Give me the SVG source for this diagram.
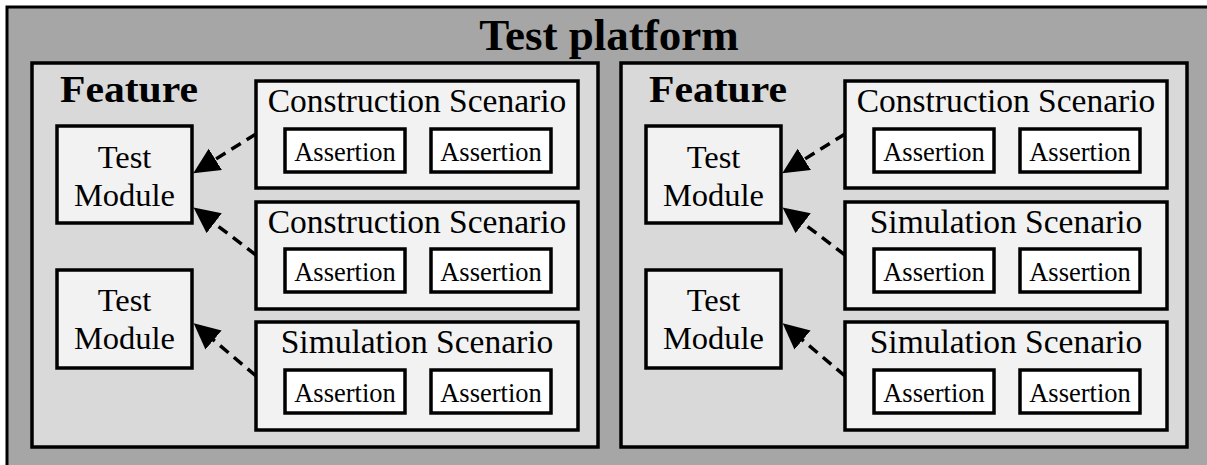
<svg xmlns="http://www.w3.org/2000/svg" width="1207" height="465" viewBox="0 0 1207 465">
<style>
.platform{fill:#a6a6a6;stroke:#000;stroke-width:3}
.feature{fill:#d9d9d9;stroke:#000;stroke-width:3.5}
.box{fill:#f2f2f2;stroke:#000;stroke-width:3.5}
.assert{fill:#ffffff;stroke:#000;stroke-width:3.5}
text{font-family:"Liberation Serif","Times New Roman",serif;fill:#000}
.title{font-size:45px;font-weight:bold;text-anchor:middle}
.ftitle{font-size:37px;font-weight:bold}
.stitle{font-size:33.5px;text-anchor:middle}
.tm{font-size:32.5px;text-anchor:middle}
.at{font-size:26.5px;text-anchor:middle}
.conn{fill:none;stroke:#000;stroke-width:3.5;stroke-dasharray:11 7}
</style>
<defs>
<marker id="arr" markerUnits="userSpaceOnUse" markerWidth="28" markerHeight="28" refX="21" refY="12.5" orient="auto">
<path d="M0,0 L26,12.5 L0,25 z" fill="#000"/>
</marker>
</defs>
<g id="platform">
<rect class="platform" x="7" y="7" width="1210" height="470"/>
<text class="title" x="609" y="50">Test platform</text>
</g>
<g id="feature1">
<rect class="feature" x="32" y="63" width="566" height="384"/>
<text class="ftitle" x="60" y="102" textLength="138" lengthAdjust="spacingAndGlyphs">Feature</text>
</g>
<g id="feature2">
<rect class="feature" x="621" y="63" width="566" height="384"/>
<text class="ftitle" x="649" y="102" textLength="138" lengthAdjust="spacingAndGlyphs">Feature</text>
</g>
<g id="tm1">
<rect class="box" x="57" y="126" width="135" height="97"/>
<text class="tm" x="124.5" y="168">Test</text>
<text class="tm" x="124.5" y="206">Module</text>
</g>
<g id="tm2">
<rect class="box" x="57" y="270" width="135" height="98"/>
<text class="tm" x="124.5" y="311">Test</text>
<text class="tm" x="124.5" y="349">Module</text>
</g>
<g id="tm3">
<rect class="box" x="646" y="126" width="135" height="97"/>
<text class="tm" x="713.5" y="168">Test</text>
<text class="tm" x="713.5" y="206">Module</text>
</g>
<g id="tm4">
<rect class="box" x="646" y="270" width="135" height="98"/>
<text class="tm" x="713.5" y="311">Test</text>
<text class="tm" x="713.5" y="349">Module</text>
</g>
<g id="s1">
<rect class="box" x="256" y="81" width="322" height="107"/>
<text class="stitle" x="417" y="112">Construction Scenario</text>
<rect class="assert" x="285" y="129" width="120" height="43"/>
<text class="at" x="345" y="161">Assertion</text>
<rect class="assert" x="431" y="129" width="120" height="43"/>
<text class="at" x="491" y="161">Assertion</text>
</g>
<g id="s2">
<rect class="box" x="256" y="202" width="322" height="107"/>
<text class="stitle" x="417" y="233">Construction Scenario</text>
<rect class="assert" x="285" y="249" width="120" height="43"/>
<text class="at" x="345" y="281">Assertion</text>
<rect class="assert" x="431" y="249" width="120" height="43"/>
<text class="at" x="491" y="281">Assertion</text>
</g>
<g id="s3">
<rect class="box" x="256" y="322" width="322" height="108"/>
<text class="stitle" x="417" y="353">Simulation Scenario</text>
<rect class="assert" x="285" y="370" width="120" height="43"/>
<text class="at" x="345" y="402">Assertion</text>
<rect class="assert" x="431" y="370" width="120" height="43"/>
<text class="at" x="491" y="402">Assertion</text>
</g>
<g id="s4">
<rect class="box" x="845" y="81" width="322" height="107"/>
<text class="stitle" x="1006" y="112">Construction Scenario</text>
<rect class="assert" x="874" y="129" width="120" height="43"/>
<text class="at" x="934" y="161">Assertion</text>
<rect class="assert" x="1020" y="129" width="120" height="43"/>
<text class="at" x="1080" y="161">Assertion</text>
</g>
<g id="s5">
<rect class="box" x="845" y="202" width="322" height="107"/>
<text class="stitle" x="1006" y="233">Simulation Scenario</text>
<rect class="assert" x="874" y="249" width="120" height="43"/>
<text class="at" x="934" y="281">Assertion</text>
<rect class="assert" x="1020" y="249" width="120" height="43"/>
<text class="at" x="1080" y="281">Assertion</text>
</g>
<g id="s6">
<rect class="box" x="845" y="322" width="322" height="108"/>
<text class="stitle" x="1006" y="353">Simulation Scenario</text>
<rect class="assert" x="874" y="370" width="120" height="43"/>
<text class="at" x="934" y="402">Assertion</text>
<rect class="assert" x="1020" y="370" width="120" height="43"/>
<text class="at" x="1080" y="402">Assertion</text>
</g>
<g id="connectors">
<path class="conn" d="M256,134 L197.5,170.5" marker-end="url(#arr)"/>
<path class="conn" d="M256,255 L197.5,210.5" marker-end="url(#arr)"/>
<path class="conn" d="M256,376 L197.5,326.5" marker-end="url(#arr)"/>
<path class="conn" d="M845,134 L786.5,170.5" marker-end="url(#arr)"/>
<path class="conn" d="M845,255 L786.5,210.5" marker-end="url(#arr)"/>
<path class="conn" d="M845,376 L786.5,326.5" marker-end="url(#arr)"/>
</g>
</svg>
